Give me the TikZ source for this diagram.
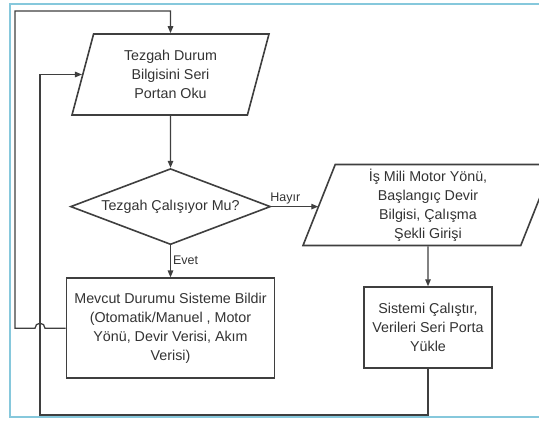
\documentclass[tikz,border=0pt]{standalone}
\usepackage{fontspec}
\setmainfont{Liberation Sans}
\usetikzlibrary{positioning, arrows.meta, shapes.geometric, calc}
\definecolor{ink}{HTML}{333333}
\definecolor{edge}{HTML}{3F3F3F}
\definecolor{frameblue}{HTML}{86C8DC}
\tikzset{
  base/.style={draw=edge, line width=1.6pt, fill=white, text=ink,
    font=\fontsize{14.3}{19}\selectfont, align=center, inner sep=0pt},
  io/.style={base, trapezium, trapezium left angle=66, trapezium right angle=114,
    trapezium stretches body, minimum height=81pt},
  proc/.style={base, rectangle},
  cond/.style={base, diamond, aspect=2.6},
  flow/.style={-{Triangle[length=7pt, width=5.5pt]}, line width=1.3pt, color=edge},
  lbl/.style={font=\fontsize{12.5}{14}\selectfont, text=ink, inner sep=2pt},
}
\begin{document}
\begin{tikzpicture}[x=1pt, y=1pt]
  \useasboundingbox (0,0) rectangle (539,421);
  % frame of the screenshot
  \draw[frameblue, line width=2pt] (539,417) -- (10,417) -- (10,4) -- (539,4);

  \node[io, minimum width=197pt] (oku) at (170.5,346.5) {Tezgah Durum\\Bilgisini Seri\\Portan Oku};
  \node[cond, minimum width=200pt, minimum height=76pt, below=52pt of oku] (calis) {Tezgah Çalışıyor Mu?};
  \node[proc, minimum width=208pt, minimum height=100pt, below=32pt of calis] (bildir)
    {Mevcut Durumu Sisteme Bildir\\(Otomatik/Manuel , Motor\\Yönü, Devir Verisi, Akım\\Verisi)};
  \node[io, minimum width=250pt] (giris) at (428,216) {İş Mili Motor Yönü,\\Başlangıç Devir\\Bilgisi, Çalışma\\Şekli Girişi};
  \node[proc, minimum width=128pt, minimum height=81pt, below=40pt of giris] (yukle)
    {Sistemi Çalıştır,\\Verileri Seri Porta\\Yükle};

  \coordinate (c1) at (15,410);
  \coordinate (c2) at (40,6);

  \draw[flow] (oku) -- (calis);
  \draw[flow] (calis.east) -- node[lbl, above, pos=0.3] {Hayır} (calis.east -| giris.west);
  \draw[flow] (calis) -- node[lbl, right, pos=0.45] {Evet} (bildir);
  \draw[flow] (giris) -- (yukle);
  % return loops
  \draw[flow] (yukle.south) |- (c2) |- (oku.west);
  \draw[flow] (bildir.west) -- ($(bildir.west -| c2)+(5,0)$)
    arc[start angle=0, end angle=180, radius=5pt] -- (bildir.west -| c1) -- (c1) -| (oku.north);
\end{tikzpicture}
\end{document}
